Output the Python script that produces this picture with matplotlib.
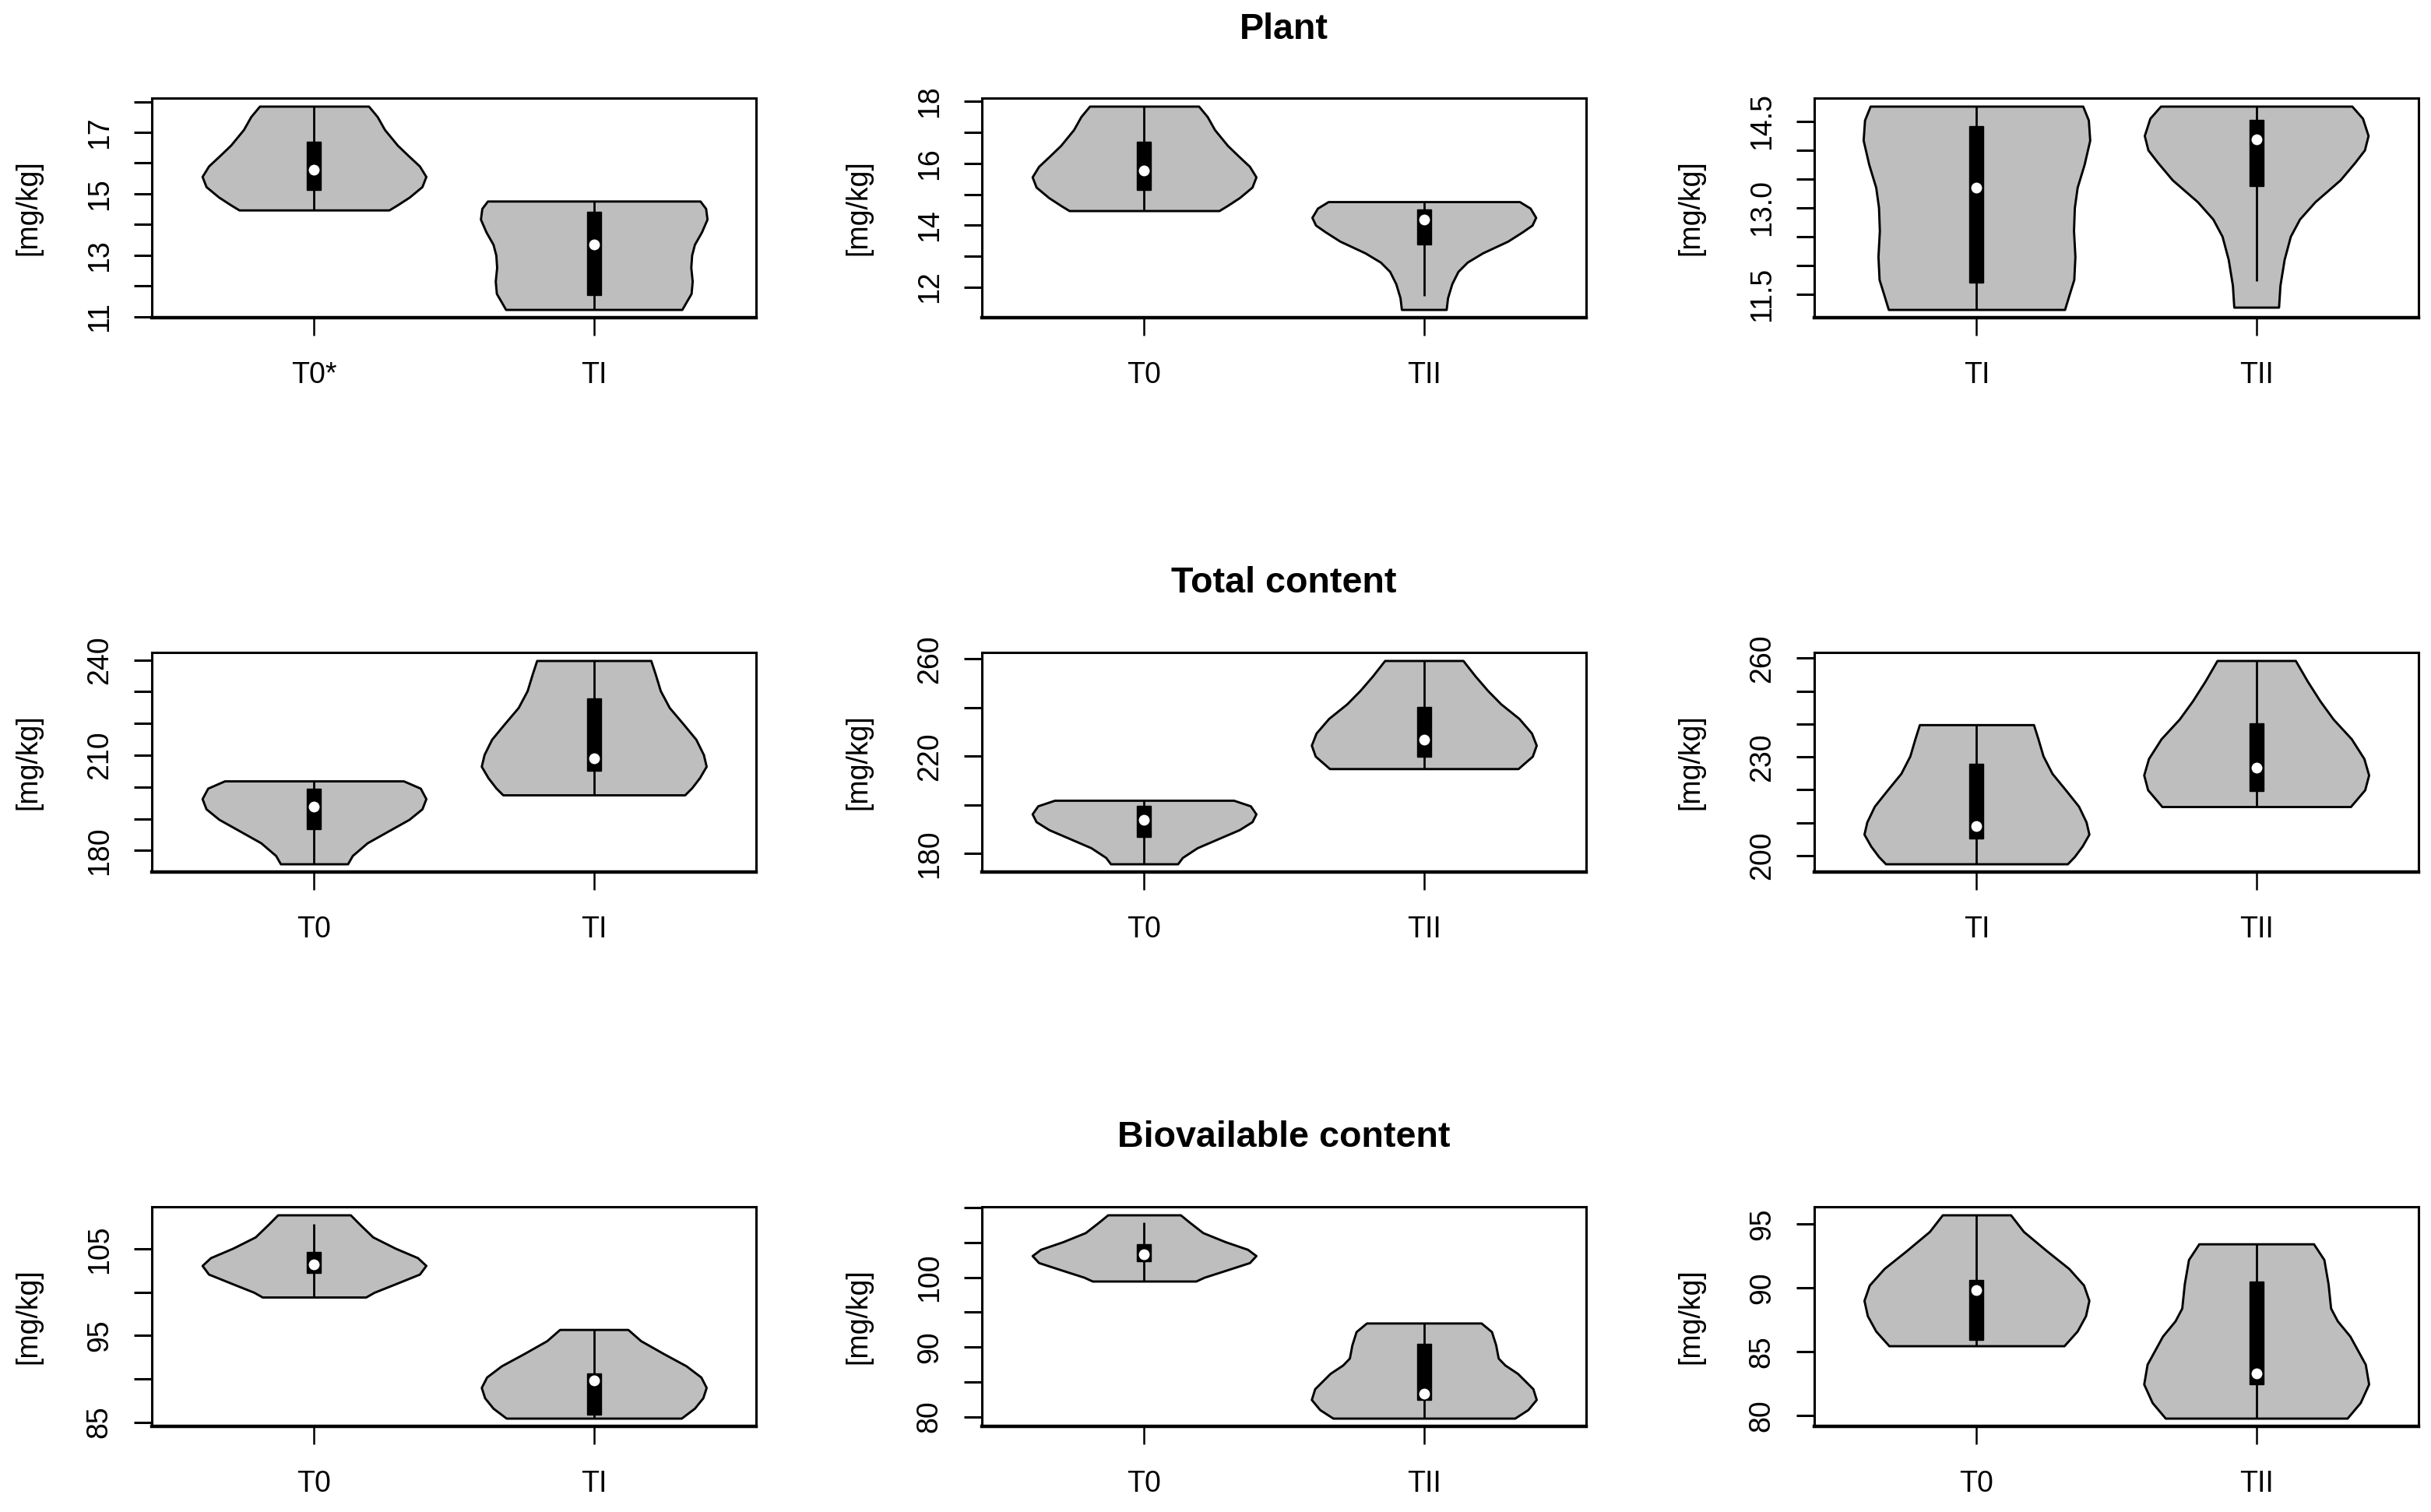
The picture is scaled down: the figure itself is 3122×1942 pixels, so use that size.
import numpy as np
import matplotlib.pyplot as plt
from matplotlib.patches import Rectangle

plt.rcParams['font.family'] = ['Liberation Sans', 'DejaVu Sans']

# violin outlines: levels [mg/kg] and half widths (x units)
plant_t0_y = [17.85, 17.51, 17.09, 16.58, 16.24, 15.90, 15.56, 15.23, 14.89, 14.63, 14.47]
plant_t0_w = [0.195, 0.226, 0.252, 0.298, 0.337, 0.377, 0.400, 0.386, 0.341, 0.297, 0.268]
plant_ti_y = [14.76, 14.52, 14.17, 13.75, 13.35, 13.00, 12.60, 12.15, 11.75, 11.50, 11.23]
plant_ti_w = [0.380, 0.400, 0.405, 0.385, 0.360, 0.350, 0.347, 0.352, 0.348, 0.332, 0.315]
plant_tii_y = [14.76, 14.55, 14.25, 14.00, 13.78, 13.48, 13.10, 12.80, 12.50, 12.10, 11.65, 11.27]
plant_tii_w = [0.342, 0.380, 0.400, 0.387, 0.352, 0.300, 0.210, 0.155, 0.122, 0.100, 0.085, 0.080]

total_t0_y = [201.9, 199.6, 196.3, 193.1, 189.8, 186.5, 182.4, 178.4, 175.8]
total_t0_w = [0.320, 0.380, 0.400, 0.386, 0.340, 0.273, 0.190, 0.137, 0.120]
total_ti_y = [239.8, 235.5, 230.3, 225.0, 219.8, 215.0, 210.2, 206.5, 202.9, 199.7, 197.5]
total_ti_w = [0.204, 0.220, 0.238, 0.270, 0.320, 0.365, 0.392, 0.402, 0.378, 0.350, 0.325]
total_tii_y = [259.3, 253.0, 247.0, 241.5, 235.5, 229.5, 224.5, 220.0, 214.9]
total_tii_w = [0.140, 0.183, 0.228, 0.275, 0.340, 0.385, 0.402, 0.388, 0.337]

bio_t0_y = [108.95, 107.9, 106.4, 105.1, 104.0, 103.1, 102.1, 100.9, 100.0, 99.45]
bio_t0_w = [0.130, 0.162, 0.210, 0.290, 0.370, 0.400, 0.377, 0.285, 0.215, 0.185]
bio_ti_y = [95.7, 94.4, 92.9, 91.5, 90.2, 89.0, 87.8, 86.6, 85.45]
bio_ti_w = [0.122, 0.168, 0.250, 0.330, 0.383, 0.402, 0.390, 0.360, 0.313]
bio_tii_y = [93.43, 92.2, 90.3, 88.4, 87.4, 86.2, 84.0, 82.45, 81.0, 79.78]
bio_tii_w = [0.205, 0.242, 0.257, 0.266, 0.290, 0.335, 0.390, 0.402, 0.372, 0.325]

# whisker low, q1, median, q3, whisker high
plant_t0_box = [14.47, 15.13, 15.78, 16.70, 17.85]
plant_ti_box = [11.23, 11.70, 13.35, 14.42, 14.76]
plant_tii_box = [11.72, 13.38, 14.18, 14.52, 14.76]
total_t0_box = [175.8, 186.8, 193.8, 199.5, 201.9]
total_ti_box = [197.5, 205.1, 209.0, 228.0, 239.8]
total_tii_box = [214.9, 219.7, 226.8, 240.3, 259.3]
bio_t0_box = [99.45, 102.25, 103.25, 104.7, 107.9]
bio_ti_box = [85.45, 85.9, 89.8, 90.6, 95.7]
bio_tii_box = [79.78, 82.42, 83.28, 90.5, 93.43]

groups = {
    'plant_T0': (plant_t0_y, plant_t0_w, plant_t0_box),
    'plant_TI': (plant_ti_y, plant_ti_w, plant_ti_box),
    'plant_TII': (plant_tii_y, plant_tii_w, plant_tii_box),
    'total_T0': (total_t0_y, total_t0_w, total_t0_box),
    'total_TI': (total_ti_y, total_ti_w, total_ti_box),
    'total_TII': (total_tii_y, total_tii_w, total_tii_box),
    'bio_T0': (bio_t0_y, bio_t0_w, bio_t0_box),
    'bio_TI': (bio_ti_y, bio_ti_w, bio_ti_box),
    'bio_TII': (bio_tii_y, bio_tii_w, bio_tii_box),
}

row_titles = ['Plant', 'Total content', 'Biovailable content']

panel_groups = [
    [('plant_T0', 'plant_TI'), ('plant_T0', 'plant_TII'), ('plant_TI', 'plant_TII')],
    [('total_T0', 'total_TI'), ('total_T0', 'total_TII'), ('total_TI', 'total_TII')],
    [('bio_T0', 'bio_TI'), ('bio_T0', 'bio_TII'), ('bio_TI', 'bio_TII')],
]
panel_names = [
    [('T0*', 'TI'), ('T0', 'TII'), ('TI', 'TII')],
    [('T0', 'TI'), ('T0', 'TII'), ('TI', 'TII')],
    [('T0', 'TI'), ('T0', 'TII'), ('T0', 'TII')],
]
panel_ticks = [
    [[11, 12, 13, 14, 15, 16, 17, 18], [12, 13, 14, 15, 16, 17, 18],
     [11.5, 12.0, 12.5, 13.0, 13.5, 14.0, 14.5]],
    [[180, 190, 200, 210, 220, 230, 240], [180, 200, 220, 240, 260],
     [200, 210, 220, 230, 240, 250, 260]],
    [[85, 90, 95, 100, 105], [80, 85, 90, 95, 100, 105, 110], [80, 85, 90, 95]],
]
panel_labels = [
    [['11', '', '13', '', '15', '', '17', ''], ['12', '', '14', '', '16', '', '18'],
     ['11.5', '', '', '13.0', '', '', '14.5']],
    [['180', '', '', '210', '', '', '240'], ['180', '', '220', '', '260'],
     ['200', '', '', '230', '', '', '260']],
    [['85', '', '95', '', '105'], ['80', '', '90', '', '100', '', ''], ['80', '85', '90', '95']],
]

W, H = 3122, 1942
fig = plt.figure(figsize=(W / 200, H / 200), dpi=200)

col_left = [195, 1261, 2330]
row_bottom = [408, 1120, 1832]
ax_w, ax_h = 776, 282
title_base = [50, 761, 1473]

for r in range(3):
    fig.text(1649 / W, 1 - title_base[r] / H, row_titles[r], ha='center', va='baseline',
             fontsize=16.8, fontweight='bold')
    for c in range(3):
        ax = fig.add_axes([col_left[c] / W, 1 - row_bottom[r] / H, ax_w / W, ax_h / H])
        lo_all, hi_all = [], []
        for i, g in enumerate(panel_groups[r][c]):
            ys, ws, box = groups[g]
            pos = i + 1
            ys = np.array(ys)
            ws = np.array(ws)
            ax.fill_betweenx(ys, pos - ws, pos + ws, facecolor='#bebebe',
                             edgecolor='black', linewidth=1.05, joinstyle='round')
            ax.vlines(pos, box[0], box[4], color='black', linewidth=1.0)
            ax.add_patch(Rectangle((pos - 0.025, box[1]), 0.05, box[3] - box[1],
                                   facecolor='black', edgecolor='black', linewidth=0.5))
            ax.plot(pos, box[2], 'o', color='white', markersize=5.0, markeredgewidth=0)
            lo_all.append(ys.min())
            hi_all.append(ys.max())
        lo, hi = min(lo_all), max(hi_all)
        pad = 0.04 * (hi - lo)
        ax.set_ylim(lo - pad, hi + pad)
        ax.set_xlim(0.42, 2.58)
        ax.set_xticks([1, 2])
        ax.set_xticklabels(panel_names[r][c])
        ax.tick_params(axis='both', direction='out', length=8.2, width=0.9, labelsize=13.5)
        ax.set_yticks(panel_ticks[r][c])
        ax.set_yticklabels(panel_labels[r][c])
        ax.tick_params(axis='x', pad=12)
        ax.tick_params(axis='y', pad=9.5, labelrotation=90, width=1.1)
        for lab in ax.get_yticklabels():
            lab.set_verticalalignment('center')
        for s in ax.spines.values():
            s.set_linewidth(1.1)
        ax.spines['bottom'].set_linewidth(1.6)
        ax.set_ylabel('[mg/kg]', fontsize=13.5)
        ax.yaxis.set_label_coords(-0.181, 0.5)

fig.savefig('out.png', dpi=200, facecolor='white')
